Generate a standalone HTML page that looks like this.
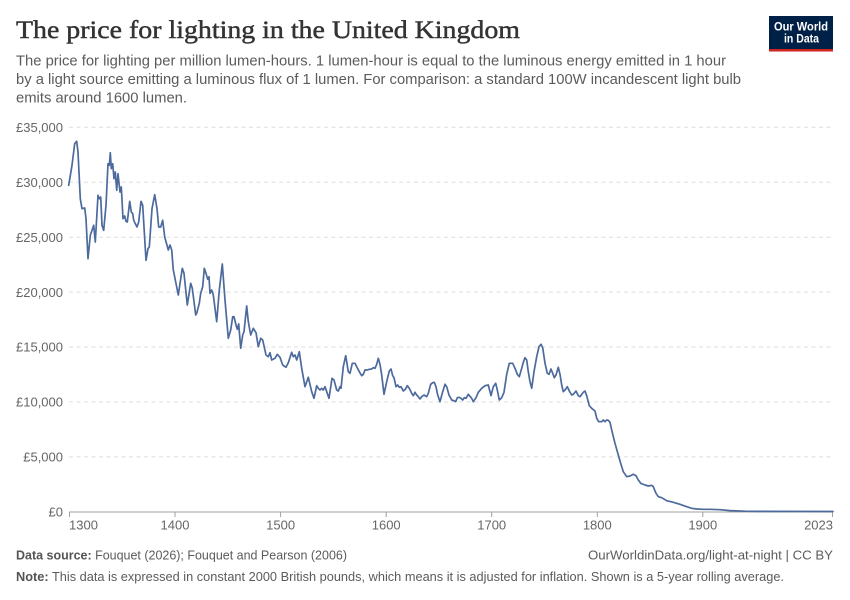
<!DOCTYPE html>
<html>
<head>
<meta charset="utf-8">
<style>
  html, body { margin: 0; padding: 0; background: #fff; }
  svg { display: block; }
  text { font-family: "Liberation Sans", sans-serif; }
</style>
</head>
<body>
<svg width="850" height="600" viewBox="0 0 850 600" xmlns="http://www.w3.org/2000/svg">
  <rect x="0" y="0" width="850" height="600" fill="#fff"/>

  <!-- Title -->
  <text x="16" y="38" font-size="25" fill="#333" stroke="#333" stroke-width="0.45" textLength="504" lengthAdjust="spacingAndGlyphs" style="font-family:'Liberation Serif', serif">The price for lighting in the United Kingdom</text>

  <!-- Subtitle -->
  <g font-size="14.5" fill="#5b5b5b">
    <text x="16" y="65.5" textLength="710" lengthAdjust="spacingAndGlyphs">The price for lighting per million lumen-hours. 1 lumen-hour is equal to the luminous energy emitted in 1 hour</text>
    <text x="16" y="84" textLength="725" lengthAdjust="spacingAndGlyphs">by a light source emitting a luminous flux of 1 lumen. For comparison: a standard 100W incandescent light bulb</text>
    <text x="16" y="102.5" textLength="171" lengthAdjust="spacingAndGlyphs">emits around 1600 lumen.</text>
  </g>

  <!-- Logo -->
  <rect x="769" y="16" width="64" height="33.5" fill="#002147"/>
  <rect x="769" y="49" width="64" height="2.5" fill="#ce261e"/>
  <text x="801" y="30.5" font-size="12" font-weight="bold" fill="#fff" text-anchor="middle" textLength="54" lengthAdjust="spacingAndGlyphs">Our World</text>
  <text x="801.5" y="42.5" font-size="12" font-weight="bold" fill="#fff" text-anchor="middle" textLength="35" lengthAdjust="spacingAndGlyphs">in Data</text>

  <!-- Gridlines -->
  <g stroke="#dddddd" stroke-width="1" stroke-dasharray="4,3.5">
    <line x1="69" y1="127.3" x2="833" y2="127.3"/>
    <line x1="69" y1="182.2" x2="833" y2="182.2"/>
    <line x1="69" y1="237.2" x2="833" y2="237.2"/>
    <line x1="69" y1="292.1" x2="833" y2="292.1"/>
    <line x1="69" y1="347.0" x2="833" y2="347.0"/>
    <line x1="69" y1="401.9" x2="833" y2="401.9"/>
    <line x1="69" y1="456.9" x2="833" y2="456.9"/>
  </g>

  <!-- Y labels -->
  <g font-size="13" fill="#666" text-anchor="end">
    <text x="63" y="132">£35,000</text>
    <text x="63" y="187">£30,000</text>
    <text x="63" y="242">£25,000</text>
    <text x="63" y="297">£20,000</text>
    <text x="63" y="351.5">£15,000</text>
    <text x="63" y="406.5">£10,000</text>
    <text x="63" y="461.5">£5,000</text>
    <text x="63" y="516.5">£0</text>
  </g>

  <!-- X axis -->
  <line x1="69" y1="512" x2="833" y2="512" stroke="#a0a0a0" stroke-width="1"/>
  <g stroke="#a0a0a0" stroke-width="1">
    <line x1="69.5" y1="512" x2="69.5" y2="517"/>
    <line x1="175" y1="512" x2="175" y2="517"/>
    <line x1="280.6" y1="512" x2="280.6" y2="517"/>
    <line x1="386.2" y1="512" x2="386.2" y2="517"/>
    <line x1="491.7" y1="512" x2="491.7" y2="517"/>
    <line x1="597.3" y1="512" x2="597.3" y2="517"/>
    <line x1="702.8" y1="512" x2="702.8" y2="517"/>
    <line x1="832.5" y1="512" x2="832.5" y2="517"/>
  </g>
  <g font-size="13" fill="#666">
    <text x="69" y="529.5">1300</text>
    <text x="175" y="529.5" text-anchor="middle">1400</text>
    <text x="280.6" y="529.5" text-anchor="middle">1500</text>
    <text x="386.2" y="529.5" text-anchor="middle">1600</text>
    <text x="491.7" y="529.5" text-anchor="middle">1700</text>
    <text x="597.3" y="529.5" text-anchor="middle">1800</text>
    <text x="702.8" y="529.5" text-anchor="middle">1900</text>
    <text x="833" y="529.5" text-anchor="end">2023</text>
  </g>

  <!-- Data line -->
  <polyline fill="none" stroke="#4c6a9c" stroke-width="1.7" stroke-linejoin="round" stroke-linecap="round" points="
68.7,185.3 72,165.3 74.7,143.7 76.7,141.3 78,152 80.3,198.7 82,208.7 84.7,208 86,218.7 88,258.7
90.3,235.3 93.7,225.3 95.3,242 98,195.3 99.3,198.7 100.7,197 102,225.3 103.7,230.3 106,205.3 108,163.7
109.3,165.3 110.3,152.7 111.3,168.7 112.7,163.7 114,178.7 115.3,172 116.7,190.3 118,173.7 120,192 121.3,187
123,218.7 124.7,216 126,221.3 127.3,222 129.7,201.3 131.3,212 132.7,213.7 133.7,220.3 135.3,223.7 137,227
138.7,222 141,201.3 142.7,205.3 146,260.3 148,248.7 149.3,247 152,208.7 154.7,194.7 157,208.7 158.7,227
160.7,227 162.7,220.3 164.7,237 168.3,250 170,245 171.7,250 173.3,270 178.3,295 182.3,268.3 184,273.3
187.3,305 190.7,283.3 192.3,288.3 195.7,315 196.7,313.3 199.3,303.3 200.7,293.3 202.7,286.7 204.3,268.3 206,273.3
207.7,279.3 209,276.7 210,293.3 211.7,290 213.3,295 216.7,321.7 219.3,290 222.3,264 225,300 228.3,338.3
230.7,330 232.7,316.7 234,316.7 236,325 237.3,329.3 238.7,324 240.7,348.3 242.7,335 244,331.7 246.7,306
248.3,321.7 250.7,335 253.3,328.3 256,332.7 258.3,346.7 260.7,338.3 262.7,340 266,355 268.3,356.7 270,352.7
271.7,360 275,358.3 277.3,354.3 280,357.3 282.7,365 286,367.3 288.3,362.7 291.7,352.3 293.3,356.7 295,355
296.7,360 299.3,351.7 301.7,368.3 305,386.7 308.3,377.3 311.7,391.7 314,398.3 316.7,385.7 318.3,388.3 320,390
321.7,388.3 323.3,390 325,386.7 326.7,391.7 329,398.3 332,378.3 334,380 336.7,390 338.3,391 340,386.7
341,388.3 343.3,366.7 345.7,355.7 346.7,361.7 348.3,371.7 350,373.3 352.3,363.3 355,363.3 356.7,366.7 359.3,371.7
361.7,375.7 363.3,374.3 365,370 367.3,370 369.3,369.3 371.7,369 373.3,367.7 375,368.3 376.7,364.3 378.3,358.3
380,364.3 381.7,375 384,394.3 386.7,381.7 389.3,371 391,369 392.7,375.7 394,377.7 396,386.7 397.7,385
399.3,387.3 401,386.7 403.3,391 405.3,389.3 407.3,385.7 409.3,388.3 411.7,393.3 413.3,395.7 415,392.3 416.7,395
418.3,396.7 420,399 421.7,396.7 424,395 426.7,396.7 428.3,393.3 430.7,384.3 432.7,382.7 434.3,382.3 436,386.7
437.7,395 440,401.7 442.7,391.7 445,384.3 446.7,386.7 449,395 451.7,400 454,400.7 455.7,401.7 457.3,397.7
459.3,397.3 461,398.3 462.7,400 464.3,397.7 466,398.3 468.3,394.3 471.7,398.3 473.3,401.7 476,397.7 478.3,392.3
481.7,388.3 485,385.7 488.3,385 491,395.7 493.3,386.7 495.7,383.3 497.3,390 499.3,400 501.7,397.7 504,392.3
506.7,374.3 509.3,363.3 512.7,363.3 515,368.3 517.3,374.3 519.3,376.7 521.7,368.3 523.3,362.3 525,357.7 526.7,360
528.3,371.7 530,381.7 531.7,388.3 534,371.7 536.7,356.7 539,346.7 541,344.3 542.7,347.7 545,363.3 547.3,373.3
549,374.3 551,369 552.7,373.3 554.3,377.7 556,375 558.3,367.3 560,374.3 561.7,385 563.3,391.7 565,390
567.3,386.7 569.3,391 571.7,395 573.3,394.3 576,391 578.3,395.7 580,396.7 583.3,392.3 585,391 586.7,395.7
589.3,405.7 591.7,408.3 595,411 596.7,418.3 598.7,421.7 601.7,421.7 603.3,420 605,421.7 606.7,420 608.3,420.3
610,422.3 611.7,430 615,443.3 618.3,455 620.7,463.3 623.3,471.7 626.7,476.7 630,476 633.3,474.3 636,475.7
638.3,480 640.7,483.3 645,485 648.3,486 651.7,485.3 653.3,486.7 656,493.3 658.3,496.7 661.7,497.7 666.7,500.7
673.3,502.3 680,504.3 686.7,506.7 691.7,508.3 696.7,509 703.3,509.3 710,509.3 720,509.7 730,510.6 745,511.2
760,511.4 833,511.5"/>

  <!-- Footer -->
  <g font-size="13" fill="#5b5b5b">
    <text x="16" y="559.5" textLength="331" lengthAdjust="spacingAndGlyphs"><tspan font-weight="bold" fill="#555">Data source:</tspan> Fouquet (2026); Fouquet and Pearson (2006)</text>
    <text x="833" y="559.5" text-anchor="end" textLength="245" lengthAdjust="spacingAndGlyphs">OurWorldinData.org/light-at-night | CC BY</text>
    <text x="16" y="581" textLength="768" lengthAdjust="spacingAndGlyphs"><tspan font-weight="bold" fill="#555">Note:</tspan> This data is expressed in constant 2000 British pounds, which means it is adjusted for inflation. Shown is a 5-year rolling average.</text>
  </g>
</svg>
</body>
</html>
